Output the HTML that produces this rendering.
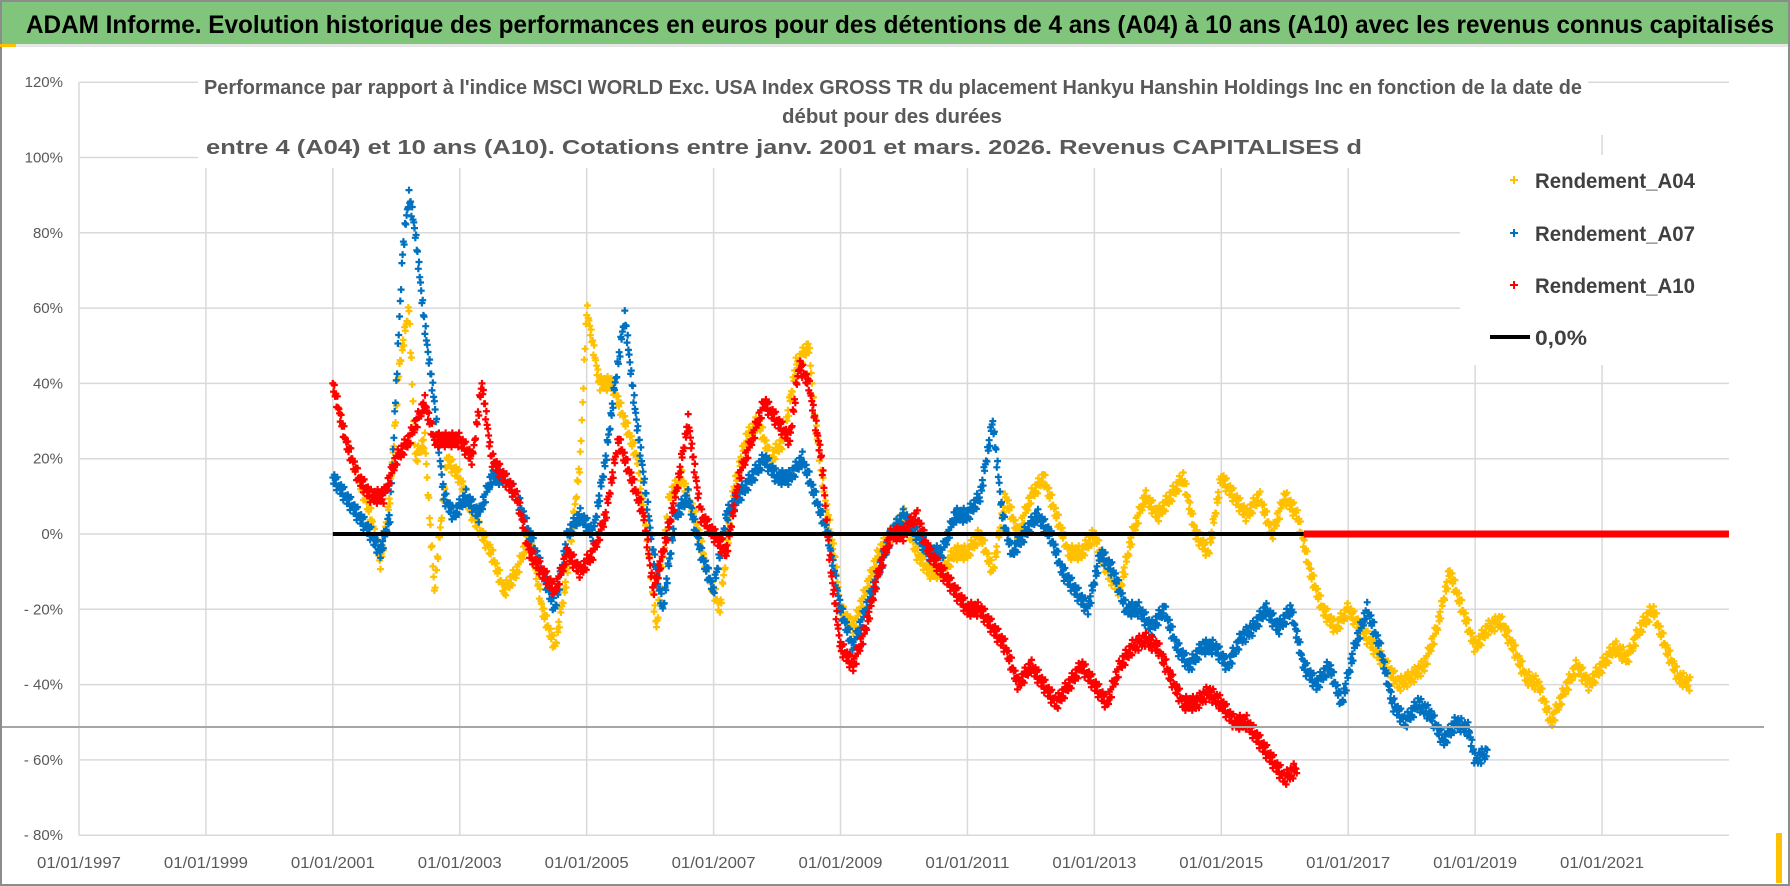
<!DOCTYPE html>
<html><head><meta charset="utf-8"><style>
html,body{margin:0;padding:0;background:#fff;}
svg{display:block;font-family:"Liberation Sans",sans-serif;}
</style></head><body>
<svg id="chart" width="1790" height="886" viewBox="0 0 1790 886">
<rect x="0" y="0" width="1790" height="886" fill="#fff"/>
<rect x="0" y="0" width="1790" height="44" fill="#80c57b"/>
<rect x="0" y="44" width="1790" height="3" fill="#e6e6e6"/>
<text x="26" y="33" font-size="25" font-weight="bold" fill="#000" textLength="1748" lengthAdjust="spacingAndGlyphs">ADAM Informe. Evolution historique des performances en euros pour des détentions de 4 ans (A04) à 10 ans (A10) avec les revenus connus capitalisés</text>
<g id="grid"></g>
<g id="marks"></g>
<rect x="198" y="58" width="1390" height="110" fill="#fff"/>
<g fill="#595959" font-weight="bold" font-size="20" text-anchor="middle">
<text x="893" y="94" textLength="1378" lengthAdjust="spacingAndGlyphs">Performance par rapport à l'indice MSCI WORLD Exc. USA Index GROSS TR  du placement Hankyu Hanshin Holdings Inc en fonction de la date de</text>
<text x="892" y="123" textLength="220" lengthAdjust="spacingAndGlyphs">début pour des durées</text>
<text x="784" y="154" textLength="1156" lengthAdjust="spacingAndGlyphs">entre 4 (A04) et 10 ans (A10).  Cotations entre janv. 2001 et mars. 2026. Revenus CAPITALISES d</text>
</g>
<g id="legend">
<rect x="1460" y="155" width="269" height="210" fill="#fff"/>
<g><path d="M1510 180h8M1514 176v8" stroke="#ffc000" stroke-width="2"/><text x="1535" y="188" font-size="21" font-weight="bold" fill="#404040" textLength="160" lengthAdjust="spacingAndGlyphs">Rendement_A04</text></g>
<g><path d="M1510 233h8M1514 229v8" stroke="#0070c0" stroke-width="2"/><text x="1535" y="241" font-size="21" font-weight="bold" fill="#404040" textLength="160" lengthAdjust="spacingAndGlyphs">Rendement_A07</text></g>
<g><path d="M1510 285h8M1514 281v8" stroke="#ff0000" stroke-width="2"/><text x="1535" y="293" font-size="21" font-weight="bold" fill="#404040" textLength="160" lengthAdjust="spacingAndGlyphs">Rendement_A10</text></g>
<g><path d="M1490 337h40" stroke="#000" stroke-width="4"/><text x="1535" y="345" font-size="21" font-weight="bold" fill="#404040" textLength="52" lengthAdjust="spacingAndGlyphs">0,0%</text></g>
</g>
<rect x="0" y="726" width="1764" height="2" fill="#a6a6a6"/>
<rect x="1" y="1" width="1788" height="884" fill="none" stroke="#8c8c8c" stroke-width="2"/>
<rect x="0" y="44" width="16" height="3" fill="#ffc000"/>
<rect x="1776" y="833" width="6" height="50" fill="#ffc000"/>
</svg>
<script>
const yTicks = [120,100,80,60,40,20,0,-20,-40,-60,-80];
const yTickLabels = ["120%","100%","80%","60%","40%","20%","0%","- 20%","- 40%","- 60%","- 80%"];
const xTicks = [1997,1999,2001,2003,2005,2007,2009,2011,2013,2015,2017,2019,2021];
const xTickLabels = ["01/01/1997","01/01/1999","01/01/2001","01/01/2003","01/01/2005","01/01/2007","01/01/2009","01/01/2011","01/01/2013","01/01/2015","01/01/2017","01/01/2019","01/01/2021"];

const a04Years = [2001.0,2001.2,2001.4,2001.6,2001.75,2001.9,2002.05,2002.2,2002.3,2002.45,2002.6,2002.8,2003.0,2003.2,2003.5,2003.7,2003.9,2004.1,2004.3,2004.5,2004.7,2004.9,2005.0,2005.2,2005.4,2005.6,2005.8,2005.95,2006.1,2006.3,2006.5,2006.7,2006.9,2007.1,2007.3,2007.5,2007.7,2007.9,2008.1,2008.3,2008.5,2008.6,2008.75,2008.9,2009.0,2009.2,2009.4,2009.6,2009.8,2010.0,2010.2,2010.4,2010.6,2010.8,2011.0,2011.2,2011.4,2011.6,2011.8,2012.0,2012.2,2012.4,2012.6,2012.8,2013.0,2013.2,2013.4,2013.6,2013.8,2014.0,2014.2,2014.4,2014.6,2014.8,2015.0,2015.2,2015.4,2015.6,2015.8,2016.0,2016.2,2016.4,2016.6,2016.8,2017.0,2017.2,2017.4,2017.6,2017.8,2018.0,2018.2,2018.4,2018.6,2018.8,2019.0,2019.2,2019.4,2019.6,2019.8,2020.0,2020.2,2020.4,2020.6,2020.8,2021.0,2021.2,2021.4,2021.6,2021.8,2022.0,2022.2,2022.4];
const a04Values = [40,25,15,5,-8,10,45,60,20,25,-15,20,15,5,-5,-15,-10,0,-20,-30,-10,20,60,40,40,30,20,0,-25,10,15,5,-10,-20,10,25,30,20,25,45,50,30,10,-5,-20,-25,-15,-5,0,5,-5,-10,-10,-5,-5,0,-10,10,0,10,15,5,-5,-5,0,-10,-15,0,10,5,10,15,0,-5,15,10,5,10,0,10,5,-10,-20,-25,-20,-25,-30,-35,-40,-38,-35,-25,-10,-20,-30,-25,-23,-30,-38,-40,-50,-42,-35,-40,-35,-30,-33,-25,-20,-30,-38,-40];

const a07Years = [2001.0,2001.2,2001.4,2001.6,2001.75,2001.9,2002.0,2002.1,2002.2,2002.3,2002.45,2002.6,2002.75,2002.9,2003.1,2003.3,2003.5,2003.7,2003.9,2004.1,2004.3,2004.5,2004.7,2004.9,2005.1,2005.3,2005.45,2005.6,2005.75,2005.9,2006.05,2006.2,2006.4,2006.6,2006.8,2007.0,2007.2,2007.4,2007.6,2007.8,2008.0,2008.2,2008.4,2008.6,2008.8,2009.0,2009.2,2009.4,2009.6,2009.8,2010.0,2010.2,2010.4,2010.6,2010.8,2011.0,2011.2,2011.4,2011.55,2011.7,2011.9,2012.1,2012.3,2012.5,2012.7,2012.9,2013.1,2013.3,2013.5,2013.7,2013.9,2014.1,2014.3,2014.5,2014.7,2014.9,2015.1,2015.3,2015.5,2015.7,2015.9,2016.1,2016.3,2016.5,2016.7,2016.9,2017.1,2017.3,2017.5,2017.7,2017.9,2018.1,2018.3,2018.5,2018.7,2018.9,2019.0,2019.2];
const a07Values = [15,10,5,0,-5,5,40,75,90,80,55,35,10,5,10,5,15,15,10,0,-10,-20,0,5,0,20,40,58,35,15,-5,-20,5,10,-5,-15,5,10,15,20,15,15,20,10,0,-20,-30,-20,-10,0,5,0,-5,-5,5,5,10,30,5,-5,0,5,0,-10,-15,-20,-5,-10,-20,-20,-25,-20,-30,-35,-30,-30,-35,-28,-25,-20,-25,-20,-35,-40,-35,-45,-30,-20,-30,-45,-50,-45,-48,-55,-50,-52,-60,-58];

const a10Years = [2001.0,2001.2,2001.4,2001.6,2001.8,2002.0,2002.2,2002.45,2002.6,2002.8,2003.0,2003.2,2003.35,2003.5,2003.7,2003.9,2004.1,2004.3,2004.5,2004.7,2004.9,2005.1,2005.3,2005.5,2005.7,2005.9,2006.05,2006.2,2006.4,2006.6,2006.8,2007.0,2007.2,2007.4,2007.6,2007.8,2008.0,2008.2,2008.35,2008.5,2008.7,2008.85,2009.0,2009.2,2009.4,2009.6,2009.8,2010.0,2010.2,2010.4,2010.6,2010.8,2011.0,2011.2,2011.4,2011.6,2011.8,2012.0,2012.2,2012.4,2012.6,2012.8,2013.0,2013.2,2013.4,2013.6,2013.8,2014.0,2014.2,2014.4,2014.6,2014.8,2015.0,2015.2,2015.4,2015.6,2015.8,2016.0,2016.2];
const a10Values = [40,25,15,10,10,20,25,35,25,25,25,20,40,20,15,10,-5,-10,-15,-5,-10,-5,5,25,15,5,-15,-5,10,30,5,0,-5,15,25,35,30,25,45,40,20,-10,-30,-35,-25,-10,0,0,5,-5,-10,-15,-20,-20,-25,-30,-40,-35,-40,-45,-40,-35,-40,-45,-35,-30,-28,-30,-38,-45,-45,-42,-45,-50,-50,-55,-60,-65,-62];
const a10ZeroStart = 2016.3, a10ZeroEnd = 2023.0;
const zeroLineStart = 2001.0, zeroLineEnd = 2016.3;

const X = yr => 79 + (yr - 1997) * 63.46;
const Y = v => 534 - v * 3.765;
const NS = "http://www.w3.org/2000/svg";
const grid = document.getElementById('grid');
const marks = document.getElementById('marks');

function mk(tag, attrs, parent){ const e = document.createElementNS(NS, tag); for (const k in attrs) e.setAttribute(k, attrs[k]); parent.appendChild(e); return e; }

yTicks.forEach((t,i)=>{
  const l = mk('line',{x1:79,x2:1729,y1:Y(t),y2:Y(t),stroke:'#d9d9d9','stroke-width':1.5},grid);
  
  
  const tx = mk('text',{x:63,y:Y(t)+5,'text-anchor':'end','font-size':15,fill:'#595959'},grid);
  tx.textContent = yTickLabels[i];
  
  
});
xTicks.forEach((t,i)=>{
  const l = mk('line',{x1:X(t),x2:X(t),y1:t===1997?Y(120):135,y2:Y(-80),stroke:'#d9d9d9','stroke-width':1.5},grid);
  
  
  const tx = mk('text',{x:X(t),y:868,'text-anchor':'middle','font-size':16,fill:'#595959',textLength:84,lengthAdjust:'spacingAndGlyphs'},grid);
  tx.textContent = xTickLabels[i];
  
  
});

function series(years, vals, color, name){
  const g = mk('g',{stroke:color,'stroke-width':2.2,fill:'none'},marks);
  
  
  let d = '';
  let k = 0;
  const offs = [0,5,-5,3,-3,7,-7,1,-1];
  for (let i=0;i<years.length-1;i++){
    const n = Math.max(3, Math.round((years[i+1]-years[i])/0.012));
    for (let j=0;j<n;j++){
      const f = j/n;
      const x = X(years[i]+(years[i+1]-years[i])*f);
      const off = offs[k%offs.length];
      k++;
      const y = Y(vals[i]+(vals[i+1]-vals[i])*f) + off;
      d += `M${(x-3.5).toFixed(1)} ${y.toFixed(1)}h7M${x.toFixed(1)} ${(y-3.5).toFixed(1)}v7`;
    }
  }
  mk('path',{d:d},g);
}
series(a04Years, a04Values, '#ffc000', 'series-a04');
series(a07Years, a07Values, '#0070c0', 'series-a07');
series(a10Years, a10Values, '#ff0000', 'series-a10');

const zl = mk('line',{x1:X(zeroLineStart),x2:X(zeroLineEnd),y1:Y(0),y2:Y(0),stroke:'#000','stroke-width':4},marks);


const rz = mk('line',{x1:X(a10ZeroStart),x2:X(a10ZeroEnd),y1:Y(0),y2:Y(0),stroke:'#ff0000','stroke-width':7},marks);


</script>
</body></html>
